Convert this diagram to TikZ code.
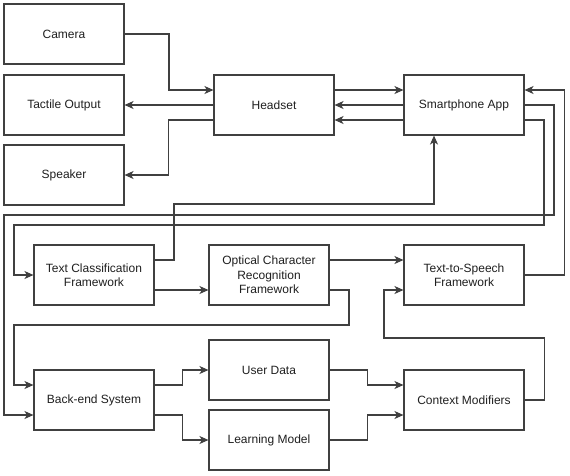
\documentclass[tikz,border=0pt]{standalone}
\usepackage{fontspec}
\setmainfont{Liberation Sans}
\usetikzlibrary{arrows.meta}
\tikzset{
    box/.style={draw=black!75,line width=1.1pt,minimum width=120pt,minimum height=60pt,inner sep=2pt,align=center,text=black!88,font=\fontsize{12}{14.5}\selectfont},
    arr/.style={draw=black!75,line width=1.1pt,-{Stealth[length=9pt,width=8pt,inset=2.5pt]}}
}
\begin{document}
\begin{tikzpicture}[x=1pt,y=-1pt]
    \useasboundingbox (0,0) rectangle (570,475);
    \node[box] (camera)   at (64,34)   {Camera};
    \node[box] (tactile)  at (64,105)  {Tactile Output};
    \node[box] (speaker)  at (64,175)  {Speaker};
    \node[box] (headset)  at (274,105) {Headset};
    \node[box] (phone)    at (464,105) {Smartphone App};
    \node[box] (textcls)  at (94,275)  {Text Classification\\Framework};
    \node[box] (ocr)      at (269,275) {Optical Character\\Recognition\\Framework};
    \node[box] (tts)      at (464,275) {Text-to-Speech\\Framework};
    \node[box] (backend)  at (94,400)  {Back-end System};
    \node[box] (userdata) at (269,370) {User Data};
    \node[box] (learning) at (269,440) {Learning Model};
    \node[box] (context)  at (464,400) {Context Modifiers};
    \draw[arr] (camera.east) -| (169,62) |- ([yshift=15pt]headset.west);
    \draw[arr] (headset.west) -- (tactile.east);
    \draw[arr] ([yshift=-15pt]headset.west) -- ++(-45,0) |- (speaker.east);
    \draw[arr] ([yshift=15pt]headset.east) -- ([yshift=15pt]phone.west);
    \draw[arr] (phone.west) -- (headset.east);
    \draw[arr] ([yshift=-15pt]phone.west) -- ([yshift=-15pt]headset.east);
    \draw[arr] ([yshift=15pt]textcls.east) -| (174,204) -| ([xshift=-30pt]phone.south);
    \draw[arr] (phone.east) -| (554,215) -- (4,215) |- ([yshift=-15pt]backend.west);
    \draw[arr] ([yshift=-15pt]phone.east) -| (544,225) -- (14,225) |- (textcls.west);
    \draw[arr] (tts.east) -- ++(40,0) |- ([yshift=15pt]phone.east);
    \draw[arr] ([yshift=-15pt]textcls.east) -- ([yshift=-15pt]ocr.west);
    \draw[arr] ([yshift=15pt]ocr.east) -- ([yshift=15pt]tts.west);
    \draw[arr] ([yshift=-15pt]ocr.east) -| (349,325) -- (14,325) |- ([yshift=15pt]backend.west);
    \draw[arr] ([yshift=15pt]backend.east) -- ++(28,0) |- (userdata.west);
    \draw[arr] ([yshift=-15pt]backend.east) -- ++(28,0) |- (learning.west);
    \draw[arr] (userdata.east) -- ++(38,0) |- ([yshift=15pt]context.west);
    \draw[arr] (learning.east) -- ++(38,0) |- ([yshift=-15pt]context.west);
    \draw[arr] (context.east) -- ++(20,0) |- (384,338) |- ([yshift=-15pt]tts.west);
\end{tikzpicture}
\end{document}
